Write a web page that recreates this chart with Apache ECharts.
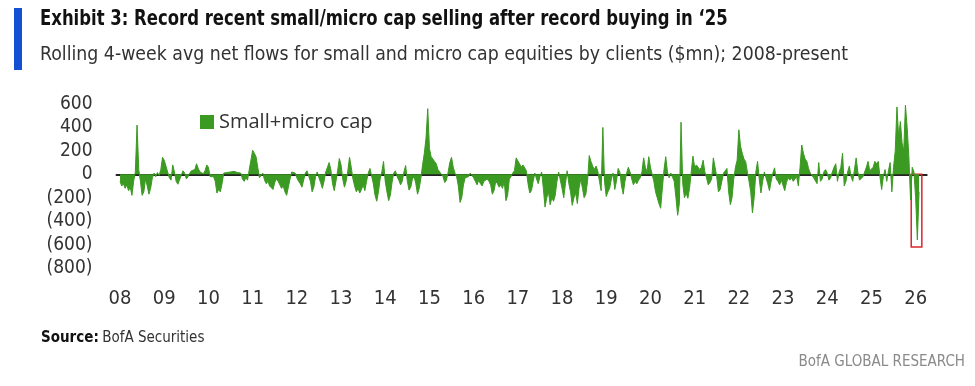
<!DOCTYPE html>
<html>
<head>
<meta charset="utf-8">
<script src="https://cdn.jsdelivr.net/npm/echarts@6/dist/echarts.min.js"></script>
<style>
html,body{margin:0;padding:0;background:#fff;}
#c{width:975px;height:386px;}
</style>
</head>
<body>
<div id="c"></div>
<script>
// Rolling 4-week avg net flows ($mn), ~bi-weekly samples (26 per year)
const y2008 = [-60,-100,-80,-120,-90,-140,-110,-180,-60,20,420,40,-60,-180,-150,-40,-100,-170,-120,-30,10,-20,15,-10,40,145];
const y2009 = [120,70,75,-30,-50,80,20,-60,-85,-70,-10,30,10,-40,-20,10,30,15,40,90,50,20,10,5,30,80];
const y2010 = [60,-20,-10,-20,-60,-160,-130,-150,-80,10,25,15,30,20,10,25,20,15,30,10,-40,-60,-30,-50,40,120];
const y2011 = [205,180,150,60,-30,-40,10,-50,-80,-60,-100,-90,-130,-70,-40,-60,-90,-120,-100,-150,-180,-110,-40,20,30,10];
const y2012 = [-30,-60,-80,-110,-50,10,30,20,-60,-150,-110,-20,20,-30,-70,-120,-60,20,60,100,40,-80,-140,-60,30,135];
const y2013 = [80,-40,-110,-60,30,145,60,-40,-100,-150,-120,-160,-130,-90,-140,-60,10,50,40,-80,-180,-230,-150,-40,20,110];
const y2014 = [-60,-150,-225,-180,-70,10,30,-20,-50,-90,-60,20,75,-60,-135,-110,-40,-20,-80,-170,-120,-30,85,180,310,560];
const y2015 = [220,150,130,110,90,40,30,0,-20,-70,-50,20,100,145,60,10,-20,-100,-240,-200,-90,-30,-40,-20,10,20];
const y2016 = [-30,-60,-90,-50,-80,-100,-60,-70,-40,-60,-90,-170,-140,-60,-80,-110,-90,-120,-60,-225,-180,-40,-20,10,30,140];
const y2017 = [140,90,60,80,70,30,-80,-160,-140,-60,10,-40,-80,-20,20,-120,-280,-200,-150,-260,-200,-230,-180,-60,20,10];
const y2018 = [-120,-200,-80,30,-80,-150,-265,-200,-160,-250,-120,-40,-120,-200,-170,-60,160,110,70,40,70,30,-60,-140,400,-60];
const y2019 = [-190,-150,-120,-40,10,-130,-60,50,20,-100,-170,-60,10,60,20,-40,-90,-60,-80,-50,-30,20,140,60,20,150];
const y2020 = [60,50,-60,-150,-200,-250,-290,-120,40,150,20,-30,10,20,-60,-200,-350,-250,445,-80,-200,-160,-205,-120,20,155];
const y2021 = [60,80,70,40,60,120,20,-30,-90,-70,-40,140,60,-20,-150,-130,-60,10,30,50,-150,-260,-200,-40,60,120];
const y2022 = [380,240,180,130,110,20,-60,-150,-330,-200,20,110,-40,-160,-60,20,-30,-80,-140,-60,10,55,-40,-60,-90,-50];
const y2023 = [-60,-140,-70,-30,-50,-30,-60,-40,-20,-100,60,250,180,130,110,50,10,-10,-30,-40,-80,100,-60,-40,20,40];
const y2024 = [10,-50,-30,20,60,90,-60,20,60,180,-100,-60,20,70,-20,-60,40,140,20,-50,-40,-20,20,60,110,30];
const y2025 = [20,60,110,90,110,-20,-130,-20,40,-60,30,100,-150,60,200,575,320,450,270,200,590,400,150,-220,60,20];
const y2026 = [-200,-560,-150];

const years = [2008,2009,2010,2011,2012,2013,2014,2015,2016,2017,2018,2019,2020,2021,2022,2023,2024,2025,2026];
const yearValues = [y2008,y2009,y2010,y2011,y2012,y2013,y2014,y2015,y2016,y2017,y2018,y2019,y2020,y2021,y2022,y2023,y2024,y2025,y2026];
const samplesPerYear = 26;
const seriesName = 'Small+micro cap';
const highlight = {x0: 2025.9, x1: 2026.14, y0: 0, y1: -620};

const data = [];
yearValues.forEach((arr, k) => {
  arr.forEach((v, i) => data.push([years[k] + i / samplesPerYear, v]));
});

const GREEN = '#3b9a21';
const NARROW = '"Liberation Sans Narrow","DejaVu Sans Condensed","Liberation Sans",sans-serif';
const chart = echarts.init(document.getElementById('c'), null, {renderer: 'canvas'});
chart.setOption({
  animation: false,
  backgroundColor: '#fff',
  grid: {left: 116.5, right: 48.3, top: 104, bottom: 118, containLabel: false},
  legend: {
    data: [seriesName], left: 195, top: 107, icon: 'rect', itemWidth: 14, itemHeight: 14, itemGap: 5,
    textStyle: {fontSize: 20, color: '#333', fontFamily: 'Open Sans, sans-serif'}
  },
  xAxis: {
    type: 'value', min: 2007.92, max: 2026.25,
    axisLine: {onZero: true, lineStyle: {color: '#222', width: 2}},
    axisTick: {show: false},
    splitLine: {show: false},
    axisLabel: {
      customValues: years, margin: 21, fontSize: 20, color: '#333', fontFamily: NARROW,
      formatter: v => String(Math.round(v) % 100).padStart(2, '0')
    }
  },
  yAxis: {
    type: 'value', min: -800, max: 600, interval: 200,
    axisLine: {show: false}, axisTick: {show: false}, splitLine: {show: false},
    axisLabel: {
      margin: 24, fontSize: 19, color: '#333', fontFamily: NARROW,
      formatter: v => v < 0 ? '(' + Math.abs(v) + ')' : String(v)
    }
  },
  series: [{
    name: seriesName, type: 'line', data: data, symbol: 'none',
    lineStyle: {color: GREEN, width: 1},
    itemStyle: {color: GREEN},
    areaStyle: {color: GREEN, opacity: 1, origin: 0},
    z: 2,
    markArea: {
      silent: true,
      itemStyle: {color: 'rgba(0,0,0,0)', borderColor: '#d9262b', borderWidth: 1.5},
      data: [[{coord: [highlight.x0, highlight.y0]}, {coord: [highlight.x1, highlight.y1]}]]
    }
  }],
  graphic: [
    {type: 'rect', shape: {x: 14, y: 8, width: 8, height: 62}, style: {fill: '#1450d2'}},
    {type: 'text', x: 40, y: 9, scaleX: 0.872, style: {text: 'Exhibit 3: Record recent small/micro cap selling after record buying in \u201825', font: 'bold 21px ' + NARROW, fill: '#111', textVerticalAlign: 'top'}},
    {type: 'text', x: 40, y: 45, scaleX: 0.965, style: {text: 'Rolling 4-week avg net flows for small and micro cap equities by clients ($mn); 2008-present', font: '20px ' + NARROW, fill: '#333', textVerticalAlign: 'top'}},
    {type: 'text', left: 41, top: 331, style: {
      text: '{b|Source:} {n|BofA Securities}',
      rich: {b: {font: 'bold 15px ' + NARROW, fill: '#111'}, n: {font: '15px ' + NARROW, fill: '#333'}}
    }},
    {type: 'text', right: 10, top: 355, style: {text: 'BofA GLOBAL RESEARCH', font: '15px ' + NARROW, fill: '#8a8a8a'}}
  ]
});
</script>
</body>
</html>
